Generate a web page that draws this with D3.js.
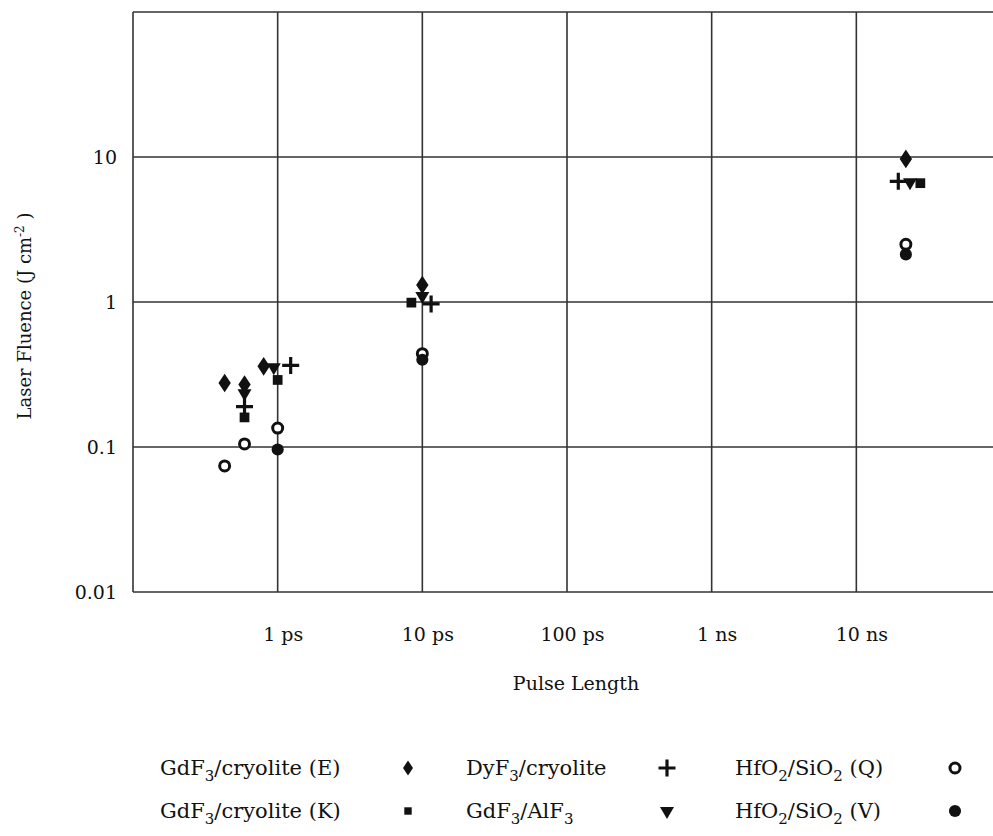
<!DOCTYPE html>
<html>
<head>
<meta charset="utf-8">
<script src="https://cdn.jsdelivr.net/npm/d3@7"></script>
<style>
  body { margin: 0; background: #fff; }
  text { font-family: "DejaVu Serif", "Liberation Serif", serif; fill: #111; }
</style>
</head>
<body>
<svg id="chart" width="993" height="836"></svg>
<script>
// pulse length in ps, fluence in J/cm2
var gdfE = [[0.43, 0.276], [0.59, 0.27], [0.8, 0.36], [10, 1.31], [22000, 9.7]];
var gdfK = [[0.59, 0.16], [1, 0.29], [8.4, 0.99], [27700, 6.6]];
var dyf = [[0.59, 0.19], [1.23, 0.365], [11.5, 0.97], [19500, 6.8]];
var gdfAl = [[0.59, 0.235], [0.94, 0.355], [10, 1.1], [23500, 6.7]];
var hfQ = [[0.43, 0.074], [0.59, 0.105], [1, 0.135], [10, 0.44], [22000, 2.5]];
var hfV = [[1, 0.096], [10, 0.40], [22000, 2.13]];

var xTicks = [1, 10, 100, 1000, 10000];
var xTickLabels = ['1 ps', '10 ps', '100 ps', '1 ns', '10 ns'];
var yTicks = [0.01, 0.1, 1, 10];
var yTickLabels = ['0.01', '0.1', '1', '10'];

var svg = d3.select('#chart');
var m = { left: 133, top: 12, bottom: 592, right: 1001 };

var x = d3.scaleLog().domain([0.1, 100000]).range([m.left, m.right]);
var y = d3.scaleLog().domain([0.01, 100]).range([m.bottom, m.top]);

var lineColor = '#333';

// grid
svg.append('g')
  .selectAll('line')
  .data([0.1, 1, 10, 100, 1000, 10000])
  .enter().append('line')
  .attr('x1', d => x(d)).attr('x2', d => x(d))
  .attr('y1', m.top).attr('y2', m.bottom)
  .attr('stroke', lineColor).attr('stroke-width', 1.6);

svg.append('g')
  .selectAll('line')
  .data([0.01, 0.1, 1, 10, 100])
  .enter().append('line')
  .attr('x1', m.left).attr('x2', m.right)
  .attr('y1', d => y(d)).attr('y2', d => y(d))
  .attr('stroke', lineColor).attr('stroke-width', 1.6);

// axes (labels only)
var xAxis = svg.append('g')
  .attr('transform', 'translate(5,' + m.bottom + ')')
  .call(d3.axisBottom(x).tickValues(xTicks).tickSize(0).tickPadding(36)
    .tickFormat((d, i) => xTickLabels[i]));
var yAxis = svg.append('g')
  .attr('transform', 'translate(' + m.left + ',0)')
  .call(d3.axisLeft(y).tickValues(yTicks).tickSize(0).tickPadding(16)
    .tickFormat((d, i) => yTickLabels[i]));
[xAxis, yAxis].forEach(function(a) {
  a.select('.domain').remove();
  a.selectAll('text').attr('font-family', null).style('font-size', '19px').attr('fill', '#111');
});

svg.append('text')
  .attr('x', 576).attr('y', 690)
  .attr('text-anchor', 'middle')
  .style('font-size', '19px')
  .text('Pulse Length');

var yt = svg.append('text')
  .attr('transform', 'translate(31,316) rotate(-90)')
  .attr('text-anchor', 'middle')
  .style('font-size', '18px');
yt.append('tspan').text('Laser Fluence  (J cm');
yt.append('tspan').attr('dy', -7).style('font-size', '12px').text('-2');
yt.append('tspan').attr('dy', 7).text(' )');

// series
var series = [
  { name: 'E', data: gdfE, type: d3.symbolDiamond, size: 100, fill: '#111' },
  { name: 'K', data: gdfK, type: d3.symbolSquare, size: 95, fill: '#111' },
  { name: 'Dy', data: dyf, type: 'plus', size: 0, fill: '#111' },
  { name: 'Al', data: gdfAl, type: 'tri', size: 85, fill: '#111' },
  { name: 'Q', data: hfQ, type: 'ring', size: 0, fill: 'none' },
  { name: 'V', data: hfV, type: d3.symbolCircle, size: 115, fill: '#111' }
];

function drawMarker(g, s, cx, cy) {
  if (s.type === 'plus') {
    g.append('path')
      .attr('d', 'M' + (cx - 8.5) + ',' + cy + 'H' + (cx + 8.5) + 'M' + cx + ',' + (cy - 8.5) + 'V' + (cy + 8.5))
      .attr('stroke', '#111').attr('stroke-width', 3.2);
  } else if (s.type === 'ring') {
    g.append('circle').attr('cx', cx).attr('cy', cy).attr('r', 5)
      .attr('fill', '#fff').attr('stroke', '#111').attr('stroke-width', 3);
  } else if (s.type === 'tri') {
    g.append('path')
      .attr('d', d3.symbol().type(d3.symbolTriangle).size(s.size)())
      .attr('transform', 'translate(' + cx + ',' + cy + ') rotate(180)')
      .attr('fill', s.fill);
  } else {
    var sh = d3.symbol().type(s.type).size(s.size)();
    g.append('path').attr('d', sh)
      .attr('transform', 'translate(' + cx + ',' + cy + ')' + (s.name === 'E' ? ' scale(1.15,1)' : ''))
      .attr('fill', s.fill);
  }
}

var marks = svg.append('g');
series.forEach(function(s) {
  s.data.forEach(function(d) {
    drawMarker(marks, s, x(d[0]), y(d[1]));
  });
});

// legend
var legendItems = [
  { parts: [['GdF', 0], ['3', 1], ['/cryolite (E)', 0]], s: series[0], tx: 160, mx: 408, ly: 775 },
  { parts: [['GdF', 0], ['3', 1], ['/cryolite (K)', 0]], s: series[1], tx: 160, mx: 408, ly: 818 },
  { parts: [['DyF', 0], ['3', 1], ['/cryolite', 0]], s: series[2], tx: 466, mx: 667, ly: 775 },
  { parts: [['GdF', 0], ['3', 1], ['/AlF', 0], ['3', 1]], s: series[3], tx: 466, mx: 667, ly: 818 },
  { parts: [['HfO', 0], ['2', 1], ['/SiO', 0], ['2', 1], [' (Q)', 0]], s: series[4], tx: 735, mx: 955, ly: 775 },
  { parts: [['HfO', 0], ['2', 1], ['/SiO', 0], ['2', 1], [' (V)', 0]], s: series[5], tx: 735, mx: 955, ly: 818 }
];

var legend = svg.append('g');
legendItems.forEach(function(it) {
  var t = legend.append('text').attr('x', it.tx).attr('y', it.ly)
    .style('font-size', '21px').attr('xml:space', 'preserve');
  var sub = false;
  it.parts.forEach(function(p) {
    var ts = t.append('tspan').text(p[0]);
    if (p[1] && !sub) { ts.attr('dy', 6).style('font-size', '15px'); sub = true; }
    else if (!p[1] && sub) { ts.attr('dy', -6); sub = false; }
  });
  var s = Object.assign({}, it.s);
  if (s.type === d3.symbolDiamond) s.size = 65;
  if (s.type === d3.symbolSquare) s.size = 55;
  drawMarker(legend, s, it.mx, it.ly - 7);
});
</script>
</body>
</html>
